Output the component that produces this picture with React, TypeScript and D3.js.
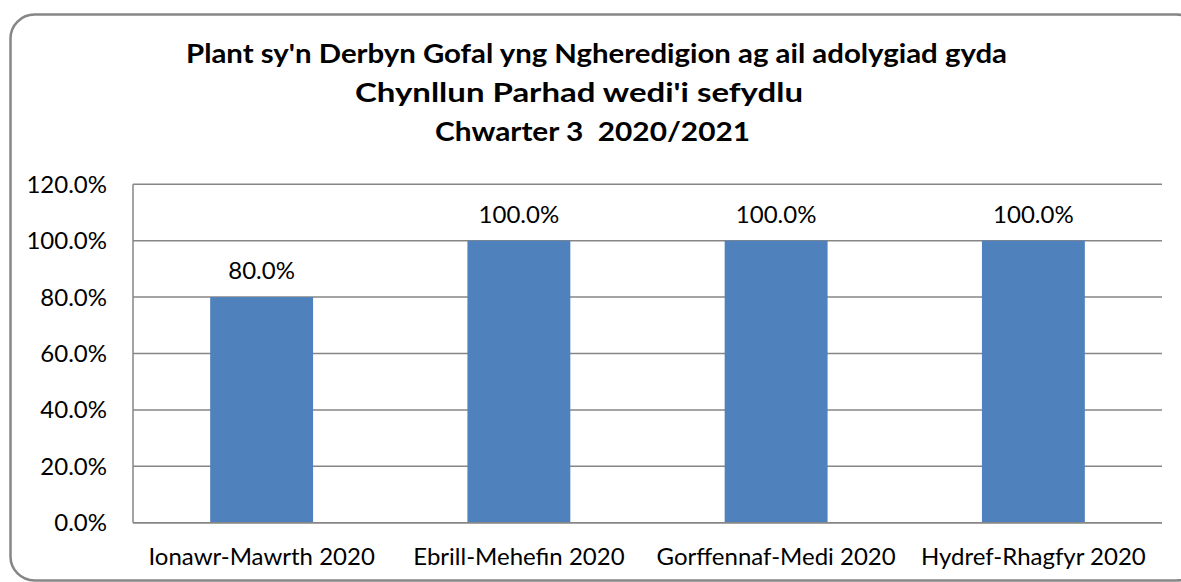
import React from "react";
import * as d3 from "d3";

const titleLines = [
  "Plant sy'n Derbyn Gofal yng Ngheredigion ag ail adolygiad gyda",
  "Chynllun Parhad wedi'i sefydlu",
  "Chwarter 3  2020/2021",
];
const categories = [
  "Ionawr-Mawrth 2020",
  "Ebrill-Mehefin 2020",
  "Gorffennaf-Medi 2020",
  "Hydref-Rhagfyr 2020",
];
const values = [0.8, 1.0, 1.0, 1.0];
const yTicks = [0, 0.2, 0.4, 0.6, 0.8, 1.0, 1.2];

const W = 1181;
const H = 582;
const plot = { left: 133, right: 1162, top: 184.3, bottom: 522.7 };
const FONT = "Lato, 'Open Sans', sans-serif";

// title layout: start x, baseline, width
const titleLayout = [
  { x: 186, y: 63, w: 821 },
  { x: 355, y: 102, w: 448 },
  { x: 435, y: 141, w: 315 },
];

export default function App() {
  const x = d3.scaleBand<string>().domain(categories).range([plot.left, plot.right]).padding(0);
  const y = d3.scaleLinear().domain([0, 1.2]).range([plot.bottom, plot.top]);
  const barW = x.bandwidth() * 0.4;
  const fmt = d3.format(".1%");

  return (
    <svg width={W} height={H} style={{ position: "absolute", left: 0, top: 0 }}>
      <rect x={0} y={0} width={W} height={H} fill="#fff" />
      <rect x={10.5} y={14.5} width={1190} height={566} rx={24} ry={24} fill="#fff" stroke="#868686" strokeWidth={2.5} />
      {titleLines.map((t, i) => (
        <text
          key={i}
          x={titleLayout[i].x}
          y={titleLayout[i].y}
          textLength={titleLayout[i].w}
          lengthAdjust="spacingAndGlyphs"
          fontFamily={FONT}
          fontWeight="bold"
          fontSize={27}
          fill="#000"
          style={{ whiteSpace: "pre" }}
        >
          {t}
        </text>
      ))}
      {yTicks.map((t) => (
        <g key={t}>
          <line x1={plot.left} x2={plot.right} y1={y(t)} y2={y(t)} stroke="#868686" strokeWidth={1.5} />
          <text x={107} y={y(t) + 8.5} textAnchor="end" fontFamily={FONT} fontSize={24} fill="#000">
            {fmt(t)}
          </text>
        </g>
      ))}
      <line x1={plot.left} x2={plot.left} y1={plot.top} y2={plot.bottom} stroke="#868686" strokeWidth={1.5} />
      {categories.map((c, i) => {
        const cx = (x(c) as number) + x.bandwidth() / 2;
        return (
          <g key={c}>
            <rect x={cx - barW / 2} y={y(values[i])} width={barW} height={plot.bottom - y(values[i])} fill="#4F81BD" />
            <text x={cx} y={y(values[i]) - 18} textAnchor="middle" fontFamily={FONT} fontSize={24} fill="#000">
              {fmt(values[i])}
            </text>
            <text x={cx} y={565} textAnchor="middle" fontFamily={FONT} fontSize={24} fill="#000">
              {c}
            </text>
          </g>
        );
      })}
      <line x1={plot.left} x2={plot.right} y1={plot.bottom} y2={plot.bottom} stroke="#868686" strokeWidth={1.5} />
    </svg>
  );
}
